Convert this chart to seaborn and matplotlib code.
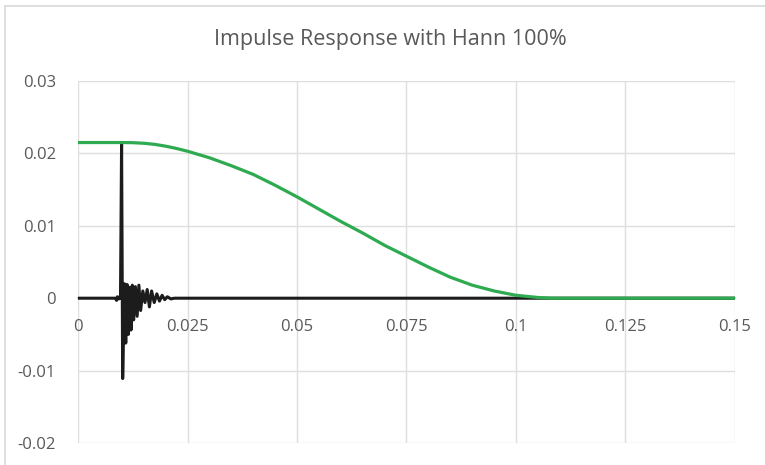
import numpy as np
import pandas as pd
import matplotlib
matplotlib.use("Agg")
import matplotlib.pyplot as plt
import seaborn as sns
from matplotlib.patches import Rectangle

# Hann window (green)
win_x = [0.0, 0.005, 0.01, 0.0125, 0.015, 0.0175, 0.02, 0.0225, 0.025, 0.03, 0.035, 0.04,
         0.045, 0.05, 0.055, 0.06, 0.065, 0.07, 0.075, 0.08, 0.085, 0.09,
         0.095, 0.1, 0.105, 0.108, 0.15]
win_y = [0.0215, 0.0215, 0.0215, 0.02148, 0.0214, 0.02125, 0.0210, 0.02068, 0.0203, 0.0194,
         0.0183, 0.0171, 0.0156, 0.0140, 0.0123, 0.0106, 0.0090, 0.0073,
         0.0058, 0.0043, 0.0029, 0.0018, 0.0010, 0.0004, 0.0001, 0.0, 0.0]

# Impulse response (black)
imp_x = [0.0, 0.0085, 0.0088, 0.0090, 0.0093, 0.0097, 0.00995, 0.0102, 0.0106,
         0.0109, 0.0112, 0.0115, 0.0118, 0.0121, 0.0124, 0.0127, 0.0131, 0.0135,
         0.0139, 0.0143, 0.0148, 0.0153, 0.0158, 0.0163, 0.0168, 0.0174, 0.0180,
         0.0186, 0.0192, 0.0198, 0.0204, 0.0212, 0.022, 0.15]
imp_y = [0.0, 0.0, -0.0003, 0.0002, -0.0001, 0.0, 0.0215, -0.0111, 0.0020,
         -0.0062, 0.0019, -0.0050, 0.0015, -0.0044, 0.0018, -0.0030, 0.0016, -0.0025,
         0.0018, -0.0017, 0.0010, -0.0006, 0.0012, -0.0012, 0.0010, -0.0006, 0.0006,
         -0.0004, 0.0004, -0.0002, 0.0002, -0.0001, 0.0, 0.0]

x_ticks = [0, 0.025, 0.05, 0.075, 0.1, 0.125, 0.15]
x_labels = ["0", "0.025", "0.05", "0.075", "0.1", "0.125", "0.15"]
y_ticks = [-0.02, -0.01, 0, 0.01, 0.02, 0.03]
y_labels = ["-0.02", "-0.01", "0", "0.01", "0.02", "0.03"]
title = "Impulse Response with Hann 100%"

sns.set_theme(style="white")
plt.rcParams['font.family'] = ['Open Sans', 'DejaVu Sans']

fig = plt.figure(figsize=(7.65, 4.65), dpi=100)
ax = fig.add_axes([78/765, 22/465, (735-78)/765, (443-81)/465])

df_imp = pd.DataFrame({"x": imp_x, "y": imp_y})
df_win = pd.DataFrame({"x": win_x, "y": win_y})
sns.lineplot(data=df_imp, x="x", y="y", ax=ax, color="#1c1c1c", linewidth=2.2,
             sort=False, estimator=None, zorder=3)
sns.lineplot(data=df_win, x="x", y="y", ax=ax, color="#2eaa50", linewidth=2.3,
             sort=False, estimator=None, zorder=4)

ax.set_xlim(0, 0.15)
ax.set_ylim(-0.02, 0.03)
ax.set_xticks(x_ticks)
ax.set_xticklabels(x_labels)
ax.set_yticks(y_ticks)
ax.set_yticklabels(y_labels)
ax.set_xlabel("")
ax.set_ylabel("")
ax.grid(True, color="#dedede", linewidth=1.0)
for s in ["top", "right", "left"]:
    ax.spines[s].set_visible(False)
ax.spines["bottom"].set_position(("data", 0))
ax.spines["bottom"].set_color("#bfbfbf")
ax.tick_params(axis="both", length=0, colors="#595959", labelsize=12)
ax.tick_params(axis="y", pad=16)
ax.tick_params(axis="x", pad=15)

fig.text(390/765, 1 - 40/465, title, ha="center", va="center",
         fontsize=15.5, color="#595959")

fig.patches.append(Rectangle((5/765, -0.1), 1.2, 1.1 - 6/465, transform=fig.transFigure,
                             fill=False, edgecolor="#d9d9d9", linewidth=1.2))

fig.savefig("out.png", dpi=100)
